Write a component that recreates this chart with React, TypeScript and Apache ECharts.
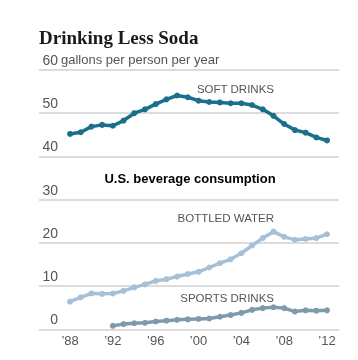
import React, { useEffect, useRef } from "react";
import * as echarts from "echarts";

const years = [1988, 1989, 1990, 1991, 1992, 1993, 1994, 1995, 1996, 1997, 1998, 1999, 2000, 2001, 2002, 2003, 2004, 2005, 2006, 2007, 2008, 2009, 2010, 2011, 2012];
const softDrinks = [45.2, 45.6, 46.9, 47.3, 47.1, 48.3, 50.0, 50.9, 52.1, 53.2, 54.1, 53.7, 52.9, 52.6, 52.5, 52.3, 52.3, 51.9, 50.9, 49.4, 47.5, 46.1, 45.5, 44.4, 43.7];
const bottledWater = [6.4, 7.4, 8.3, 8.2, 8.3, 8.9, 9.7, 10.4, 11.2, 11.6, 12.2, 12.8, 13.3, 14.3, 15.3, 16.2, 17.6, 19.4, 21.1, 22.6, 21.4, 20.7, 20.9, 21.1, 22.0];
const sportsDrinks = [null, null, null, null, 0.8, 1.2, 1.4, 1.5, 1.8, 2.0, 2.2, 2.3, 2.4, 2.5, 2.9, 3.3, 3.8, 4.5, 4.9, 5.1, 4.9, 4.1, 4.4, 4.3, 4.4];
const xTickYears = [1988, 1992, 1996, 2000, 2004, 2008, 2012];

const pairs = (vals: (number | null)[]) =>
  years.map((y, i) => [y, vals[i]]).filter((p) => p[1] !== null);

export default function App() {
  const ref = useRef<HTMLDivElement>(null);
  useEffect(() => {
    if (!ref.current) return;
    const chart = echarts.init(ref.current, undefined, { renderer: "svg" });
    const mk = (name: string, vals: (number | null)[], color: string) => ({
      name,
      type: "line",
      data: pairs(vals),
      symbol: "circle",
      symbolSize: 6,
      showSymbol: true,
      lineStyle: { color, width: 3.5 },
      itemStyle: { color },
      z: 3,
    });
    chart.setOption({
      animation: false,
      grid: { left: 39, right: 19, top: 70, bottom: 30.7, containLabel: false },
      xAxis: {
        type: "value",
        min: 1985.1,
        max: 2013.12,
        axisLine: { show: false },
        axisTick: { show: false },
        splitLine: { show: false },
        axisLabel: {
          customValues: xTickYears,
          formatter: (v: number) => "\u2019" + String(v).slice(2),
          color: "#555",
          fontSize: 13,
          fontFamily: "Liberation Sans",
          margin: 5,
        },
      },
      yAxis: {
        type: "value",
        min: 0,
        max: 60,
        interval: 10,
        axisLine: { show: false },
        axisTick: { show: false },
        splitLine: { lineStyle: { color: "#dcdcdc", width: 2 } },
        axisLabel: {
          inside: true,
          align: "right",
          verticalAlign: "bottom",
          margin: 19,
          padding: [0, 0, 3, 0],
          color: "#555",
          fontSize: 14,
          fontFamily: "Liberation Sans",
        },
      },
      graphic: [
        {
          type: "text",
          left: 39,
          top: 28,
          style: {
            text: "Drinking Less Soda",
            font: "bold 19px 'Liberation Serif'",
            fill: "#1a1a1a",
          },
        },
        {
          type: "text",
          left: 61,
          top: 53,
          style: {
            text: "gallons per person per year",
            font: "13px 'Liberation Sans'",
            fill: "#555",
          },
        },
        {
          type: "text",
          x: 274,
          y: 89,
          style: {
            text: "SOFT DRINKS",
            font: "11.5px 'Liberation Sans'",
            fill: "#555",
            align: "right",
            verticalAlign: "middle",
          },
        },
        {
          type: "text",
          x: 274,
          y: 218,
          style: {
            text: "BOTTLED WATER",
            font: "11.5px 'Liberation Sans'",
            fill: "#555",
            align: "right",
            verticalAlign: "middle",
          },
        },
        {
          type: "text",
          x: 274,
          y: 298,
          style: {
            text: "SPORTS DRINKS",
            font: "11.5px 'Liberation Sans'",
            fill: "#555",
            align: "right",
            verticalAlign: "middle",
          },
        },
        {
          type: "text",
          x: 190,
          y: 178,
          style: {
            text: "U.S. beverage consumption",
            font: "bold 13px 'Liberation Sans'",
            fill: "#000",
            align: "center",
            verticalAlign: "middle",
          },
        },
      ],
      series: [
        mk("Soft drinks", softDrinks, "#1b6f8b"),
        mk("Bottled water", bottledWater, "#a6c1d7"),
        mk("Sports drinks", sportsDrinks, "#7f9aab"),
      ],
    });
    return () => chart.dispose();
  }, []);
  return (
    <div
      ref={ref}
      style={{ position: "fixed", left: 0, top: 0, width: 358, height: 360 }}
    />
  );
}
